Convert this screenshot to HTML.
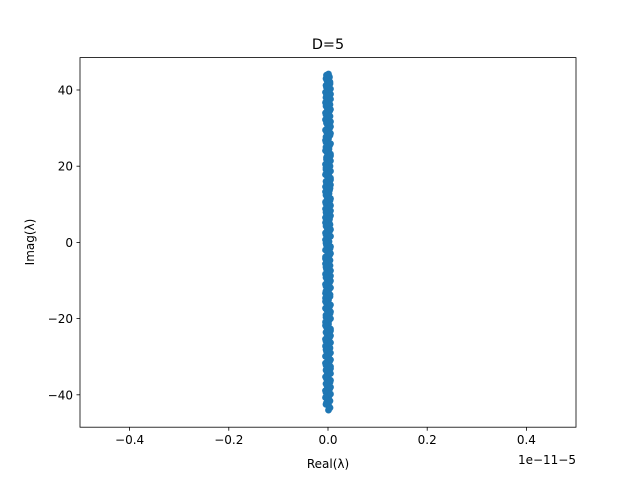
<!DOCTYPE html>
<html><head><meta charset="utf-8"><style>
body{margin:0;background:#fff}
svg text{font-family:"DejaVu Sans","Liberation Sans",sans-serif;fill:#000}
</style></head><body>
<svg id="chart" width="640" height="480" viewBox="0 0 640 480">
<rect width="640" height="480" fill="#fff"/>
<g id="points"></g>
<rect x="80" y="57.6" width="496" height="369.6" fill="none" stroke="#000" stroke-width="0.8"/>
<g id="axes"></g>
<text x="328" y="49" font-size="14.4" text-anchor="middle">D=5</text>
<text x="328" y="468" font-size="12" text-anchor="middle">Real(λ)</text>
<text x="34" y="242" font-size="12" text-anchor="middle" transform="rotate(-90 34 242)">Imag(λ)</text>
<text x="576" y="464" font-size="12" text-anchor="end">1e−11−5</text>
</svg>
<script>
const xTicks=[-0.4,-0.2,0,0.2,0.4];
const xTickLabels=["−0.4","−0.2","0.0","0.2","0.4"];
const yTicks=[-40,-20,0,20,40];
const yTickLabels=["−40","−20","0","20","40"];
const imagVals=[44.2,43.4,42.5,41.6,40.7,39.8,38.9,38.0,37.1,36.2,35.3,34.4,33.5,32.6,31.7,30.8,29.9,29.0,28.1,27.2,26.3,25.4,24.5,23.6,22.7,21.8,20.9,20.0,19.1,18.2,17.3,16.4,15.5,14.6,13.7,12.8,11.9,11.0,10.1,9.2,8.3,7.4,6.5,5.6,4.7,3.8,2.9,2.0,1.1,0.2,-0.7,-1.6,-2.5,-3.4,-4.3,-5.2,-6.1,-7.0,-7.9,-8.8,-9.7,-10.6,-11.5,-12.4,-13.3,-14.2,-15.1,-16.0,-16.9,-17.8,-18.7,-19.6,-20.5,-21.4,-22.3,-23.2,-24.1,-25.0,-25.9,-26.8,-27.7,-28.6,-29.5,-30.4,-31.3,-32.2,-33.1,-34.0,-34.9,-35.8,-36.7,-37.6,-38.5,-39.4,-40.3,-41.2,-42.1,-43.0,-44.0];
const realVals=[0.001,0.003,-0.002,0.004,-0.003,0.002,0.005,-0.004,0.001,0.004,-0.002,0.003,-0.004,0.002,0.005,-0.001,0.003,-0.003,0.004,0.001,-0.004,0.003,0.002,-0.002,0.005,-0.003,0.001,0.004,-0.004,0.002,-0.001,0.005,-0.003,-0.005,0.003,0.002,-0.002,0.004,-0.004,0.001,0.005,-0.003,-0.005,0.002,0.004,-0.002,0.003,-0.004,0.001,0.002,-0.003,0.004,-0.001,0.003,-0.005,0.002,0.004,-0.003,0.001,0.005,-0.002,0.003,-0.004,0.002,-0.005,0.004,0.001,-0.003,0.003,-0.002,0.004,-0.004,0.002,0.001,-0.003,0.005,-0.002,0.003,-0.004,0.001,0.004,-0.003,0.002,-0.001,0.003,-0.004,0.005,-0.002,0.001,-0.003,0.004,-0.002,0.003,-0.004,0.002,0.001,-0.003,0.002,0.001];
const imagVals2=[43.9,43.0,42.1,41.2,40.3,39.4,38.5,37.6,36.7,35.8,34.9,34.0,33.1,32.2,31.3,30.4,29.5,28.6,27.7,26.8,25.9,25.0,24.1,23.2,22.3,21.4,20.5,19.6,18.7,17.8,16.9,16.0,15.1,14.2,13.3,12.4,11.5,10.6,9.7,8.8,7.9,7.0,6.1,5.2,4.3,3.4,2.5,1.6,0.7,-0.2,-1.1,-2.0,-2.9,-3.8,-4.7,-5.6,-6.5,-7.4,-8.3,-9.2,-10.1,-11.0,-11.9,-12.8,-13.7,-14.6,-15.5,-16.4,-17.3,-18.2,-19.1,-20.0,-20.9,-21.8,-22.7,-23.6,-24.5,-25.4,-26.3,-27.2,-28.1,-29.0,-29.9,-30.8,-31.7,-32.6,-33.5,-34.4,-35.3,-36.2,-37.1,-38.0,-38.9,-39.8,-40.7,-41.6,-42.5,-43.4];
const realVals2=[-0.003,-0.004,0.004,-0.004,0.005,-0.005,-0.003,0.005,-0.005,-0.004,0.005,-0.005,0.004,-0.005,-0.003,0.005,-0.005,0.005,-0.004,-0.005,0.005,-0.004,-0.005,0.005,-0.003,0.005,-0.005,-0.004,0.005,-0.005,0.005,-0.004,0.005,0.004,-0.005,-0.004,0.005,-0.005,0.005,-0.005,-0.004,0.005,0.003,-0.005,-0.004,0.005,-0.005,0.005,-0.005,-0.004,0.005,-0.005,0.005,-0.005,0.004,-0.005,-0.004,0.005,-0.005,-0.004,0.005,-0.005,0.005,-0.004,0.004,-0.005,-0.005,0.005,-0.005,0.005,-0.004,0.005,-0.005,-0.005,0.005,-0.004,0.005,-0.005,0.005,-0.005,-0.004,0.005,-0.005,0.005,-0.005,0.005,-0.004,0.005,-0.005,0.005,-0.004,0.005,-0.005,0.005,-0.005,0.004,-0.004,0.004];
const X0=80,X1=576,Y0=57.6,Y1=427.2,xmin=-0.5,xmax=0.5,ymin=-48.5,ymax=48.5;
const xs=v=>X0+(v-xmin)/(xmax-xmin)*(X1-X0);
const ys=v=>Y1-(v-ymin)/(ymax-ymin)*(Y1-Y0);
const NS="http://www.w3.org/2000/svg";
const pg=document.getElementById('points');
function addPts(ys_,xs_){
 ys_.forEach((y,i)=>{
  const c=document.createElementNS(NS,'circle');
  c.setAttribute('cx',xs(xs_[i]));c.setAttribute('cy',ys(y));c.setAttribute('r',3.4);
  c.setAttribute('fill','#1f77b4');
  
  
  pg.appendChild(c);
 });
}
addPts(imagVals,realVals);
addPts(imagVals2,realVals2);
const ag=document.getElementById('axes');
xTicks.forEach((t,i)=>{
 const x=xs(t);
 const l=document.createElementNS(NS,'line');
 l.setAttribute('x1',x);l.setAttribute('x2',x);l.setAttribute('y1',Y1);l.setAttribute('y2',Y1+3.5);l.setAttribute('stroke','#000');l.setAttribute('stroke-width','0.8');
 
 
 ag.appendChild(l);
 const tx=document.createElementNS(NS,'text');
 tx.setAttribute('x',x);tx.setAttribute('y',Y1+17);tx.setAttribute('font-size','12');tx.setAttribute('text-anchor','middle');
 tx.textContent=xTickLabels[i];
 
 
 ag.appendChild(tx);
});
yTicks.forEach((t,i)=>{
 const y=ys(t);
 const l=document.createElementNS(NS,'line');
 l.setAttribute('x1',X0-3.5);l.setAttribute('x2',X0);l.setAttribute('y1',y);l.setAttribute('y2',y);l.setAttribute('stroke','#000');l.setAttribute('stroke-width','0.8');
 
 
 ag.appendChild(l);
 const tx=document.createElementNS(NS,'text');
 tx.setAttribute('x',X0-7);tx.setAttribute('y',y+4.5);tx.setAttribute('font-size','12');tx.setAttribute('text-anchor','end');
 tx.textContent=yTickLabels[i];
 
 
 ag.appendChild(tx);
});
</script>
</body></html>
